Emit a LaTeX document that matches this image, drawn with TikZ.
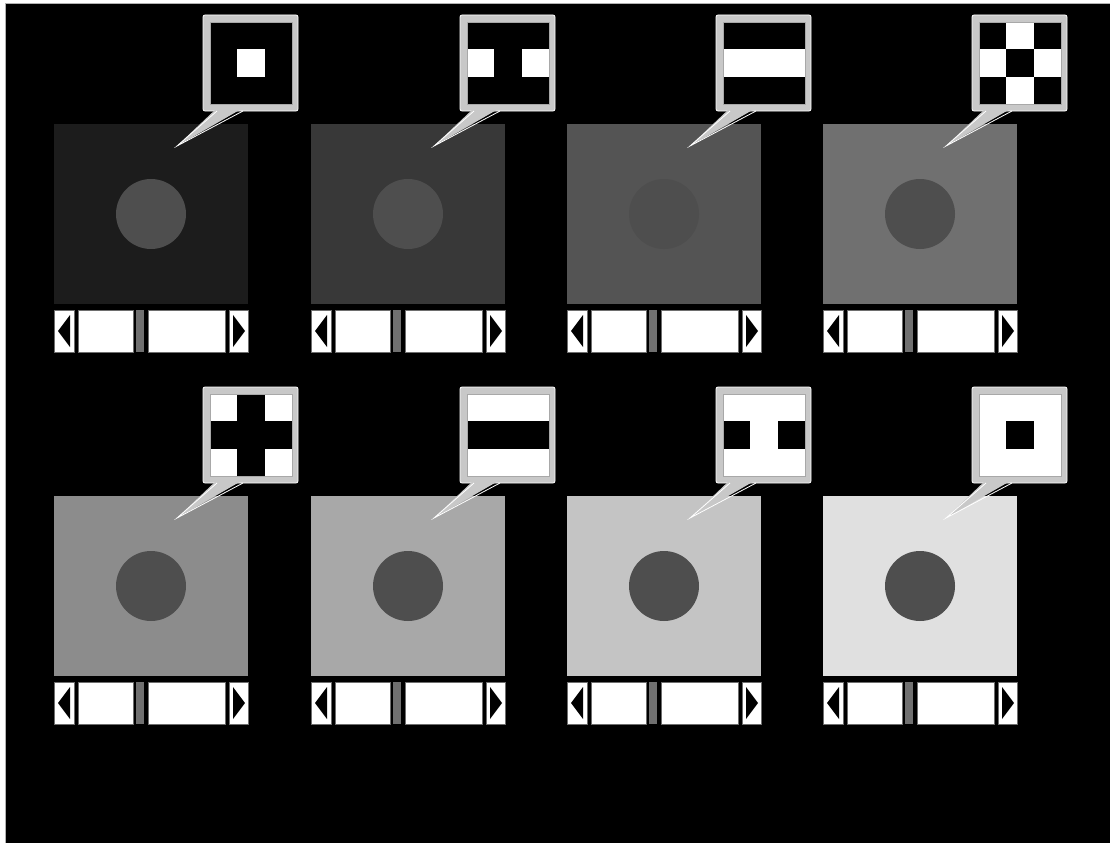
\documentclass[tikz,border=0pt]{standalone}
\definecolor{circ}{RGB}{78,78,78}
\definecolor{callgray}{RGB}{200,200,200}
\definecolor{edgegray}{RGB}{110,110,110}
\definecolor{thumbgray}{RGB}{112,112,112}
\tikzset{
  sbox/.style={fill=white, draw=edgegray, line width=0.8pt},
  arrowtri/.style={fill=black},
  callbox/.style={fill=callgray, draw=white, line width=0.8pt, rounded corners=2pt},
}
\begin{document}
\begin{tikzpicture}[x=1pt,y=-1pt]
\useasboundingbox (0,0) rectangle (1110,843);
\fill[white] (0,0) rectangle (1110,843);
\fill[black] (5,3) rectangle (1110,843);
\draw[gray!60, line width=1.2pt] (5.5,843) -- (5.5,3.5) -- (1110,3.5);
\foreach \x/\y/\g/\p in {54/124/28/{4}, 311/124/56/{3,5}, 567/124/84/{3,4,5}, 823/124/112/{1,3,5,7},
  54/496/140/{0,2,6,8}, 311/496/168/{0,1,2,6,7,8}, 567/496/196/{0,1,2,4,6,7,8}, 823/496/224/{0,1,2,3,5,6,7,8}} {
  \definecolor{pc}{RGB}{\g,\g,\g}
  \begin{scope}[shift={(\x,\y)}]
    % panel
    \fill[pc] (0,0) rectangle (194,180);
    \fill[circ] (97,90) circle (35);
    % callout box
    \draw[callbox] (149,-109) rectangle (244,-13);
    \fill[black] (156,-102) rectangle (238,-20);
    \foreach \k in \p {
      \pgfmathtruncatemacro\ci{mod(\k,3)}
      \pgfmathtruncatemacro\cj{int(\k/3)}
      \fill[white] ({156+\ci*27.333},{-102+\cj*27.333}) rectangle +(27.333,27.333);
    }
    \draw[edgegray!60, line width=0.5pt] (156,-102) rectangle (238,-20);
    % tail
    \fill[callgray] (163,-16) -- (123,22) -- (189,-16) -- cycle;
    \draw[white, line width=0.8pt] (163,-13) -- (123,22) -- (189,-13);
    % scrollbar
    \draw[sbox] (0,186) rectangle (20,228);
    \draw[sbox] (24,186) rectangle (79,228);
    \fill[thumbgray] (82,186) rectangle (90,228);
    \draw[sbox] (94,186) rectangle (171,228);
    \draw[sbox] (175,186) rectangle (194,228);
    \fill[arrowtri] (4,207) -- (16,191) -- (16,223) -- cycle;
    \fill[arrowtri] (191,207) -- (179,191) -- (179,223) -- cycle;
  \end{scope}
}
\end{tikzpicture}
\end{document}
